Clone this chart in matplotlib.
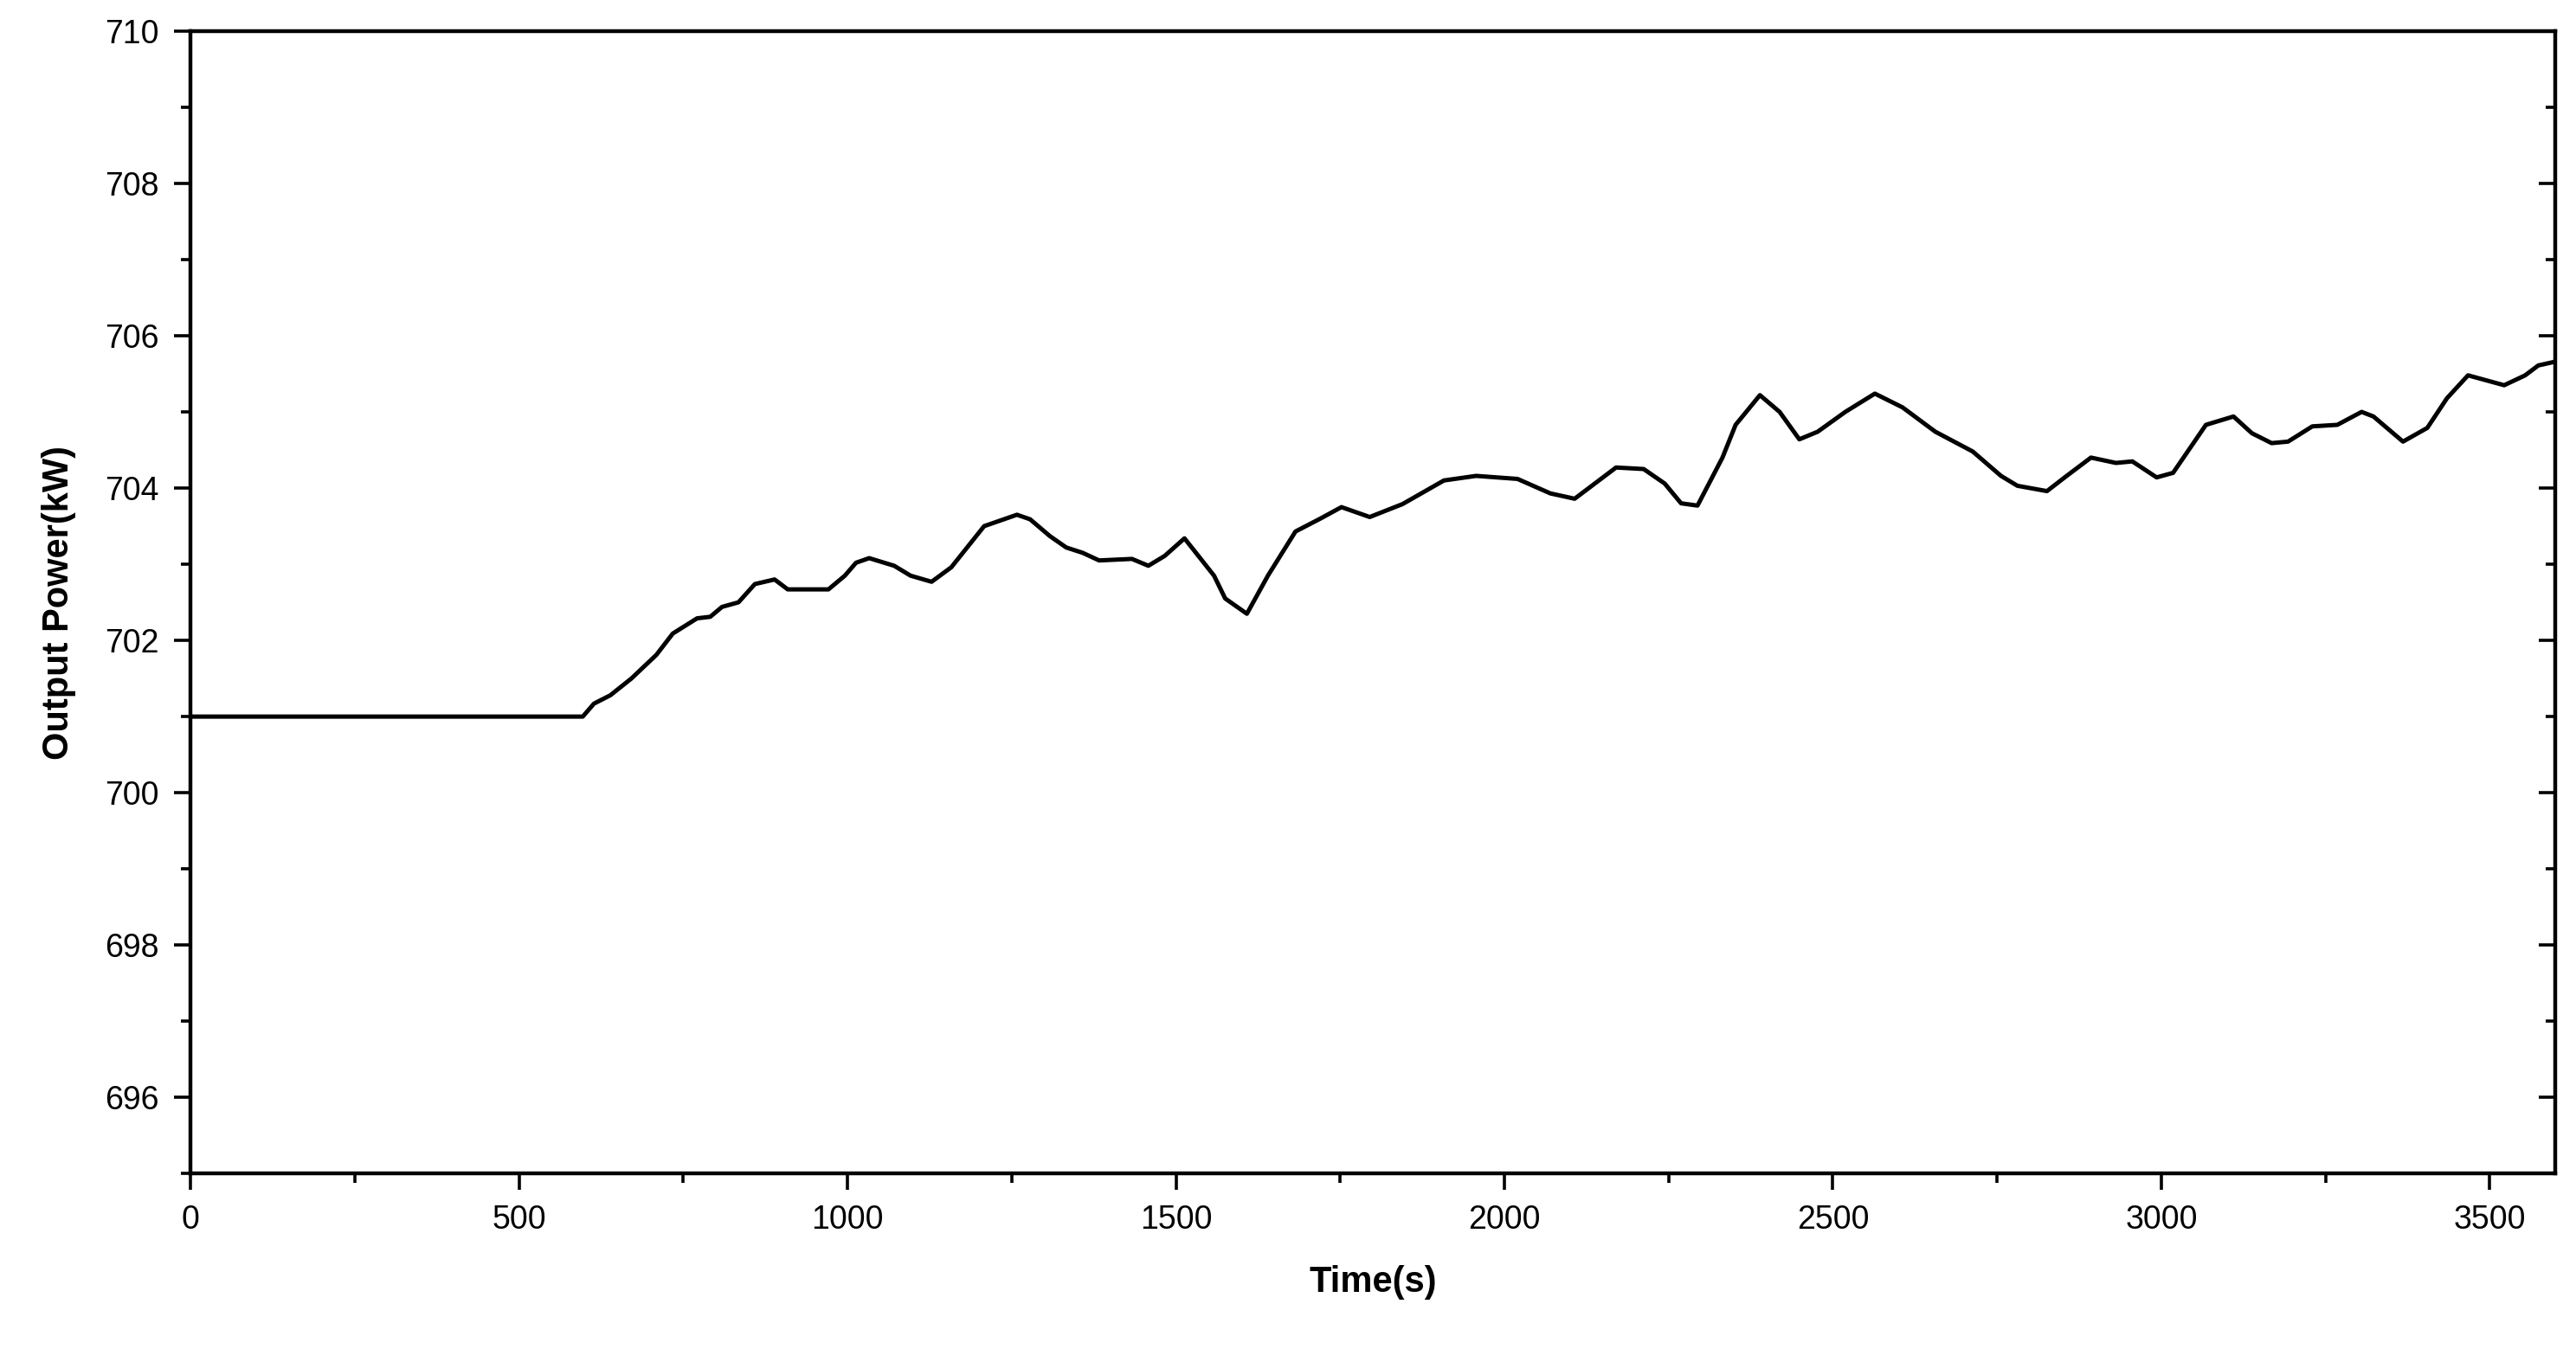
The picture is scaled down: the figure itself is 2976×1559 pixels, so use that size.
import matplotlib
matplotlib.use("Agg")
import matplotlib.pyplot as plt
from matplotlib.ticker import MultipleLocator

plt.rcParams['font.family'] = ['Liberation Sans', 'DejaVu Sans']

time_s = [0, 597, 614, 639, 671, 709, 734, 771, 791, 809, 834, 859, 889, 909, 971, 996,
          1013, 1033, 1071, 1096, 1128, 1158, 1208, 1258, 1278, 1308, 1333, 1358, 1383,
          1433, 1458, 1483, 1513, 1558, 1575, 1608, 1640, 1682, 1720, 1752, 1795, 1845,
          1908, 1957, 2020, 2070, 2107, 2170, 2212, 2244, 2269, 2294, 2332, 2352, 2389,
          2419, 2449, 2477, 2519, 2564, 2606, 2656, 2713, 2756, 2781, 2826, 2856, 2893,
          2931, 2956, 2993, 3018, 3068, 3110, 3138, 3168, 3193, 3230, 3268, 3305, 3323,
          3368, 3405, 3435, 3467, 3522, 3554, 3574, 3600]
power_kw = [701.0, 701.0, 701.17, 701.28, 701.5, 701.81, 702.09, 702.29, 702.31, 702.44,
            702.5, 702.74, 702.8, 702.67, 702.67, 702.85, 703.02, 703.08, 702.98, 702.85,
            702.77, 702.96, 703.5, 703.65, 703.59, 703.37, 703.22, 703.15, 703.05, 703.07,
            702.98, 703.11, 703.34, 702.85, 702.55, 702.35, 702.85, 703.43, 703.6, 703.75,
            703.62, 703.79, 704.1, 704.16, 704.12, 703.93, 703.86, 704.27, 704.25, 704.06,
            703.8, 703.77, 704.4, 704.83, 705.22, 705.0, 704.64, 704.74, 705.0, 705.24,
            705.06, 704.74, 704.48, 704.16, 704.03, 703.96, 704.16, 704.4, 704.33, 704.35,
            704.14, 704.2, 704.83, 704.94, 704.72, 704.59, 704.61, 704.81, 704.83, 705.0,
            704.94, 704.61, 704.79, 705.18, 705.48, 705.35, 705.48, 705.61, 705.66]

fig = plt.figure(figsize=(14.88, 7.795), dpi=200)
ax = fig.add_axes([0.074, 0.130, 0.918, 0.847])
ax.plot(time_s, power_kw, color='k', lw=1.8)

ax.set_xlim(0, 3600)
ax.set_ylim(695, 710)
ax.xaxis.set_major_locator(MultipleLocator(500))
ax.xaxis.set_minor_locator(MultipleLocator(250))
ax.yaxis.set_major_locator(MultipleLocator(2))
ax.yaxis.set_minor_locator(MultipleLocator(1))
ax.tick_params(which='both', direction='out', labelsize=13.5, width=1.3)
ax.tick_params(which='major', length=7, pad=6)
ax.tick_params(which='minor', length=4)
for s in ax.spines.values():
    s.set_linewidth(1.6)

# inward ticks on the right side
ax_r = ax.twinx()
ax_r.set_ylim(ax.get_ylim())
ax_r.yaxis.set_major_locator(MultipleLocator(2))
ax_r.yaxis.set_minor_locator(MultipleLocator(1))
ax_r.tick_params(which='both', direction='in', labelright=False, width=1.3)
ax_r.tick_params(which='major', length=7)
ax_r.tick_params(which='minor', length=4)

ax.set_xlabel("Time(s)", fontsize=15, fontweight='bold', labelpad=12)
ax.set_ylabel("Output Power(kW)", fontsize=15, fontweight='bold', labelpad=12)

fig.savefig("out.png", dpi=200)
